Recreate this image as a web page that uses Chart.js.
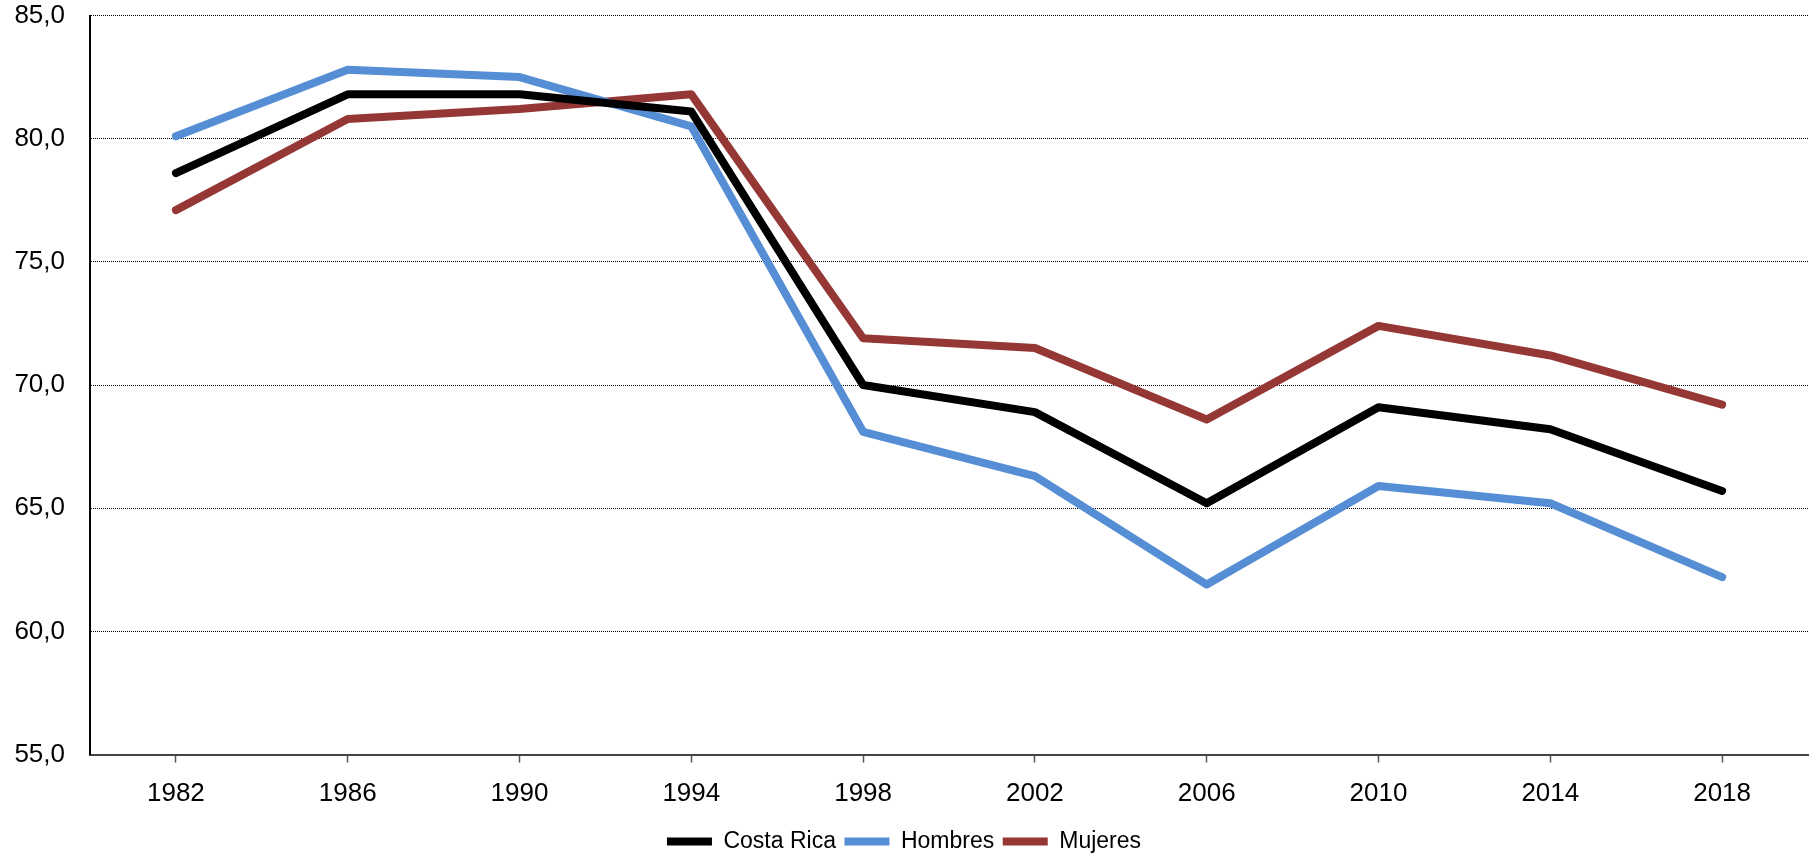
<!DOCTYPE html>
<html lang="es">
<head>
    <meta charset="UTF-8">
    <title>Costa Rica, Hombres, Mujeres 1982-2018</title>
    <script src="https://cdn.jsdelivr.net/npm/chart.js"></script>
    <style>
        html, body { margin: 0; padding: 0; background: #fff; }
        .wrap { width: 1813px; height: 863px; position: relative; }
    </style>
</head>
<body>
    <div class="wrap">
        <canvas id="chart"></canvas>
    </div>

    <script>
        // datos
        const years = ['1982', '1986', '1990', '1994', '1998', '2002', '2006', '2010', '2014', '2018'];
        const costaRica = [78.6, 81.8, 81.8, 81.1, 70.0, 68.9, 65.2, 69.1, 68.2, 65.7];
        const hombres = [80.1, 82.8, 82.5, 80.5, 68.1, 66.3, 61.9, 65.9, 65.2, 62.2];
        const mujeres = [77.1, 80.8, 81.2, 81.8, 71.9, 71.5, 68.6, 72.4, 71.2, 69.2];
        const yTicks = [55, 60, 65, 70, 75, 80, 85];

        const tickFont = { family: '"Liberation Sans", Arial, sans-serif', size: 26 };
        const legendFont = { family: '"Liberation Sans Narrow", "Liberation Sans", sans-serif', size: 23 };

        function serie(label, data, color) {
            return {
                label: label,
                data: data,
                borderColor: color,
                backgroundColor: color,
                borderWidth: 8,
                borderCapStyle: 'round',
                borderJoinStyle: 'round',
                pointRadius: 0,
                pointHoverRadius: 0,
                tension: 0,
                fill: false
            };
        }

        new Chart(document.getElementById('chart'), {
            type: 'line',
            data: {
                labels: years,
                datasets: [
                    serie('Costa Rica', costaRica, '#000000'),
                    serie('Hombres', hombres, '#558ED5'),
                    serie('Mujeres', mujeres, '#953735')
                ]
            },
            options: {
                responsive: true,
                maintainAspectRatio: false,
                animation: false,
                layout: { padding: { top: 0, right: 5, left: 0, bottom: 0 } },
                plugins: {
                    tooltip: { enabled: false },
                    legend: {
                        position: 'bottom',
                        labels: {
                            usePointStyle: true,
                            pointStyle: 'line',
                            pointStyleWidth: 45,
                            boxHeight: 7,
                            padding: 8.5,
                            color: '#000',
                            font: legendFont
                        }
                    }
                },
                scales: {
                    x: {
                        offset: true,
                        afterFit: s => { s.height = 67; },
                        grid: {
                            drawOnChartArea: false,
                            drawTicks: true,
                            tickLength: 8,
                            tickColor: '#555',
                            tickWidth: 1.5
                        },
                        border: { color: '#444', width: 2 },
                        ticks: { color: '#000', font: tickFont, padding: 16, maxRotation: 0 }
                    },
                    y: {
                        min: 55,
                        max: 85,
                        afterBuildTicks: s => { s.ticks = yTicks.map(v => ({ value: v })); },
                        afterFit: s => {
                            s.width = 90;
                            s.paddingTop = 15.5;
                            s.paddingBottom = 0;
                        },
                        grid: {
                            color: '#000',
                            lineWidth: 1,
                            drawTicks: false
                        },
                        border: { color: '#000', width: 2, dash: [1, 1] },
                        ticks: {
                            color: '#000',
                            font: tickFont,
                            padding: 25,
                            callback: v => v.toFixed(1).replace('.', ',')
                        }
                    }
                }
            }
        });
    </script>
</body>
</html>
